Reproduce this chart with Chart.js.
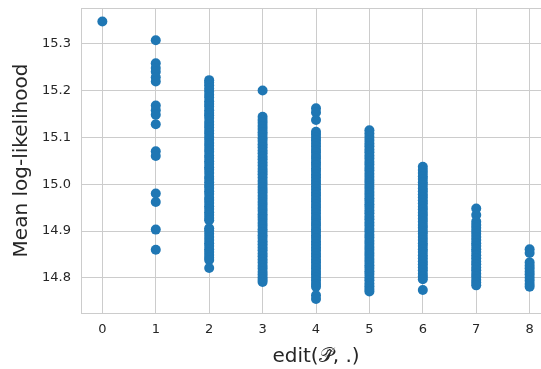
<!DOCTYPE html>
<html>
<head>
<meta charset="utf-8">
<script src="https://cdn.jsdelivr.net/npm/chart.js@4"></script>
<style>
  html, body { margin: 0; padding: 0; background: #fff; overflow: hidden; }
  #wrap { width: 556px; height: 369px; }
</style>
</head>
<body>
<div id="wrap"><canvas id="chart"></canvas></div>
<script>
// edit distance categories and the mean log-likelihood values
const categories = [0, 1, 2, 3, 4, 5, 6, 7, 8];
const edit0 = [15.347];
const edit1 = [15.307, 15.258, 15.248, 15.240, 15.228, 15.219, 15.168, 15.158, 15.148, 15.128,
  15.070, 15.060, 14.980, 14.962, 14.903, 14.860];
const edit2 = [15.222, 15.217, 15.211, 15.204, 15.198, 15.191, 15.185, 15.177, 15.171, 15.166,
  15.158, 15.152, 15.147, 15.141, 15.133, 15.127, 15.121, 15.114, 15.108, 15.101, 15.095, 15.088,
  15.082, 15.075, 15.069, 15.061, 15.056, 15.049, 15.043, 15.036, 15.031, 15.024, 15.016, 15.011,
  15.004, 14.997, 14.992, 14.985, 14.979, 14.971, 14.966, 14.960, 14.953, 14.947, 14.940, 14.934,
  14.928, 14.923, 14.906, 14.901, 14.894, 14.887, 14.881, 14.874, 14.868, 14.861, 14.855, 14.849,
  14.843, 14.838, 14.821];
const edit3 = [15.200, 15.144, 15.137, 15.131, 15.124, 15.118, 15.111, 15.105, 15.098, 15.092,
  15.085, 15.079, 15.072, 15.066, 15.059, 15.053, 15.046, 15.040, 15.033, 15.027, 15.021, 15.014,
  15.007, 15.001, 14.994, 14.988, 14.982, 14.975, 14.969, 14.962, 14.956, 14.949, 14.943, 14.936,
  14.930, 14.924, 14.917, 14.911, 14.904, 14.898, 14.891, 14.885, 14.878, 14.872, 14.865, 14.859,
  14.852, 14.846, 14.839, 14.833, 14.826, 14.820, 14.813, 14.807, 14.801, 14.796, 14.791];
const edit4 = [15.162, 15.153, 15.137, 15.112, 15.106, 15.099, 15.093, 15.086, 15.080, 15.073,
  15.067, 15.060, 15.054, 15.047, 15.041, 15.034, 15.028, 15.021, 15.015, 15.008, 15.002, 14.995,
  14.989, 14.982, 14.976, 14.969, 14.963, 14.956, 14.950, 14.943, 14.937, 14.930, 14.924, 14.917,
  14.911, 14.904, 14.898, 14.891, 14.885, 14.878, 14.872, 14.865, 14.859, 14.852, 14.846, 14.839,
  14.833, 14.826, 14.820, 14.813, 14.807, 14.800, 14.794, 14.787, 14.781, 14.763, 14.755];
const edit5 = [15.115, 15.108, 15.101, 15.094, 15.087, 15.081, 15.074, 15.068, 15.061, 15.055,
  15.048, 15.042, 15.035, 15.029, 15.022, 15.016, 15.009, 15.003, 14.996, 14.990, 14.983, 14.977,
  14.970, 14.964, 14.957, 14.951, 14.944, 14.938, 14.931, 14.925, 14.918, 14.912, 14.905, 14.899,
  14.892, 14.886, 14.879, 14.873, 14.866, 14.860, 14.853, 14.847, 14.840, 14.834, 14.827, 14.821,
  14.814, 14.808, 14.801, 14.795, 14.788, 14.782, 14.776, 14.771];
const edit6 = [15.037, 15.030, 15.024, 15.017, 15.011, 15.004, 14.998, 14.991, 14.985, 14.978,
  14.972, 14.965, 14.959, 14.952, 14.946, 14.939, 14.933, 14.926, 14.920, 14.913, 14.907, 14.900,
  14.894, 14.887, 14.881, 14.874, 14.868, 14.861, 14.855, 14.848, 14.842, 14.835, 14.829, 14.822,
  14.816, 14.809, 14.803, 14.797, 14.774];
const edit7 = [14.948, 14.934, 14.920, 14.913, 14.907, 14.900, 14.894, 14.887, 14.881, 14.874,
  14.868, 14.861, 14.855, 14.848, 14.842, 14.835, 14.829, 14.822, 14.816, 14.809, 14.803, 14.796,
  14.790, 14.784];
const edit8 = [14.861, 14.853, 14.833, 14.826, 14.820, 14.813, 14.807, 14.800, 14.794, 14.787, 14.781];

const xTicks = [0, 1, 2, 3, 4, 5, 6, 7, 8];
const yTicks = [14.8, 14.9, 15.0, 15.1, 15.2, 15.3];

const columns = [edit0, edit1, edit2, edit3, edit4, edit5, edit6, edit7, edit8];
const points = [];
categories.forEach((c, i) => {
  columns[i].forEach((v) => points.push({ x: c, y: v }));
});

const GRID = "#cccccc";
const TEXT = "#262626";
const FONT = "'DejaVu Sans', sans-serif";

// draw the top spine, chart.js only draws the left and bottom ones
const topSpine = {
  id: "topSpine",
  beforeDatasetsDraw(chart) {
    const { ctx, chartArea } = chart;
    ctx.save();
    ctx.strokeStyle = GRID;
    ctx.lineWidth = 1;
    ctx.beginPath();
    ctx.moveTo(chartArea.left, chartArea.top + 0.5);
    ctx.lineTo(chartArea.right, chartArea.top + 0.5);
    ctx.stroke();
    ctx.restore();
  },
};

new Chart(document.getElementById("chart"), {
  type: "scatter",
  data: {
    datasets: [
      {
        data: points,
        backgroundColor: "#1f77b4",
        borderWidth: 0,
        pointRadius: 5,
        pointHoverRadius: 5,
      },
    ],
  },
  options: {
    responsive: true,
    maintainAspectRatio: false,
    animation: false,
    layout: { padding: { top: 8, right: 0, left: 0, bottom: 0 } },
    plugins: { legend: { display: false }, tooltip: { enabled: false } },
    scales: {
      x: {
        type: "linear",
        min: -0.4,
        max: 8.4,
        afterBuildTicks: (s) => { s.ticks = xTicks.map((v) => ({ value: v })); },
        afterFit: (s) => { s.height = 56; s.paddingLeft = 0; s.paddingRight = 0; },
        grid: { color: GRID, lineWidth: 1, drawTicks: false },
        border: { color: GRID, width: 1 },
        ticks: { color: TEXT, font: { family: FONT, size: 13 }, padding: 9 },
        title: {
          display: true,
          text: "edit(\u{1D4AB}\u0302, .)",
          color: TEXT,
          font: { family: FONT, size: 20 },
          padding: { top: 0, bottom: 0 },
        },
      },
      y: {
        min: 14.725,
        max: 15.376,
        afterBuildTicks: (s) => { s.ticks = yTicks.map((v) => ({ value: v })); },
        afterFit: (s) => { s.width = 81; s.paddingTop = 0; s.paddingBottom = 0; },
        grid: { color: GRID, lineWidth: 1, drawTicks: false },
        border: { color: GRID, width: 1 },
        ticks: {
          color: TEXT,
          font: { family: FONT, size: 13 },
          padding: 10,
          callback: (v) => Number(v).toFixed(1),
        },
        title: {
          display: true,
          text: "Mean log-likelihood",
          color: TEXT,
          font: { family: FONT, size: 20 },
          padding: { top: 10, bottom: 0 },
        },
      },
    },
  },
  plugins: [topSpine],
});
</script>
</body>
</html>
